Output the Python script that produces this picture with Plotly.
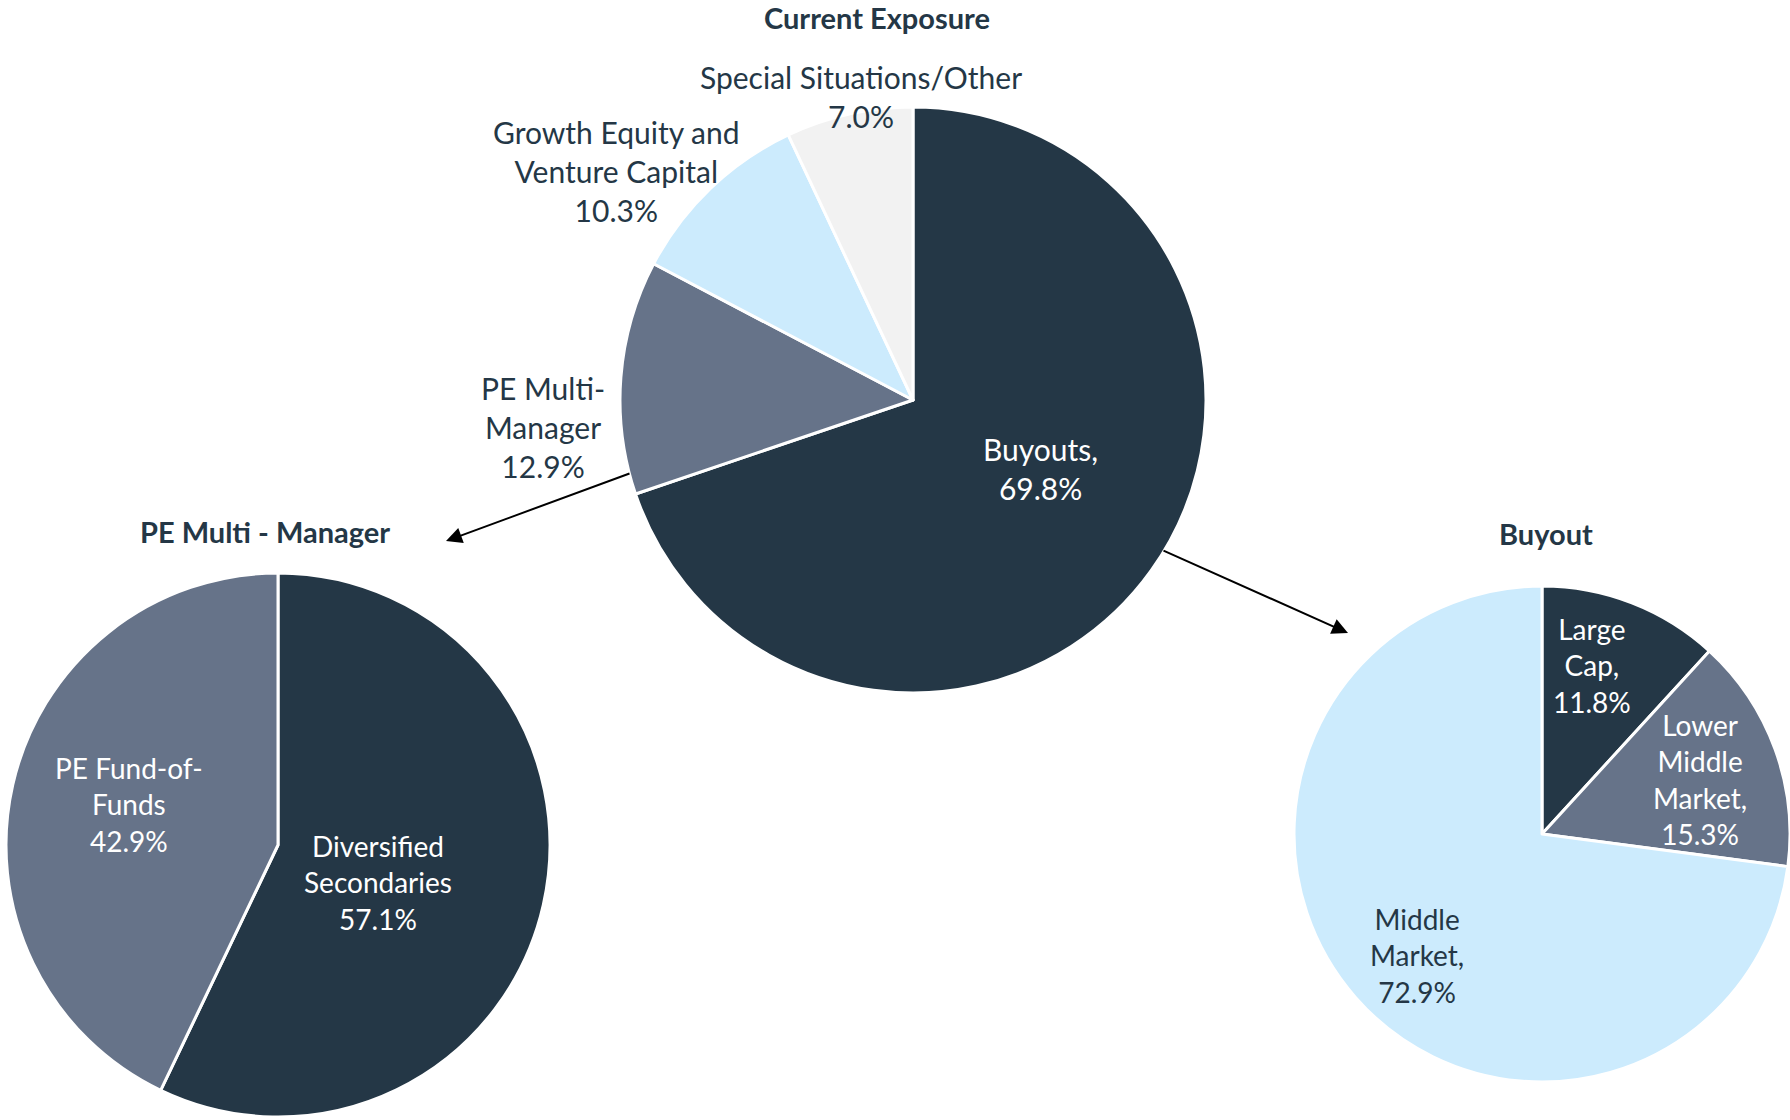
import plotly.graph_objects as go

# ---------------- data ----------------
main_labels = ["Buyouts", "PE Multi-Manager", "Growth Equity and Venture Capital", "Special Situations/Other"]
main_text = ["Buyouts,", "PE Multi-<br>Manager", "Growth Equity and<br>Venture Capital", "Special Situations/Other"]
main_values = [69.8, 12.9, 10.3, 7.0]

pemm_labels = ["Diversified Secondaries", "PE Fund-of-Funds"]
pemm_text = ["Diversified<br>Secondaries", "PE Fund-of-<br>Funds"]
pemm_values = [57.1, 42.9]

buy_labels = ["Large Cap", "Lower Middle Market", "Middle Market"]
buy_text = ["Large<br>Cap,", "Lower<br>Middle<br>Market,", "Middle<br>Market,"]
buy_values = [11.8, 15.3, 72.9]

titles = ["Current Exposure", "PE Multi - Manager", "Buyout"]

# ---------------- style ----------------
W, H = 1790, 1120
NAVY = "#243746"
SLATE = "#667389"
LBLUE = "#CCEBFD"
LGRAY = "#F2F2F2"
FONT = "Lato"

def px(x):
    return min(1.0, max(0.0, x / W))

def py(y):
    return min(1.0, max(0.0, 1 - y / H))

def dom(cx, cy, r):
    return dict(x=[px(cx - r), px(cx + r)], y=[py(cy + r), py(cy - r)])

fig = go.Figure()

def add_pie(labels, values, colors, d):
    fig.add_trace(go.Pie(
        labels=labels, values=values, sort=False, direction="clockwise", rotation=0,
        marker=dict(colors=colors, line=dict(color="white", width=3)),
        textinfo="none", hoverinfo="label+percent", showlegend=False, domain=d,
    ))

add_pie(main_labels, main_values, [NAVY, SLATE, LBLUE, LGRAY], dom(913, 400, 293))
add_pie(pemm_labels, pemm_values, [NAVY, SLATE], dom(278, 845, 272))
add_pie(buy_labels, buy_values, [NAVY, SLATE, LBLUE], dom(1542, 834, 248))

ann = []

def label(x, y, txt, color, size):
    ann.append(dict(x=px(x), y=py(y), xref="paper", yref="paper", text=txt,
                    showarrow=False, xanchor="center", yanchor="middle", align="center",
                    font=dict(family=FONT, size=size, color=color)))

# main pie labels
main_pos = [(1040, 468), (543, 427), (616, 171), (861, 96)]
main_col = ["white", NAVY, NAVY, NAVY]
for t, v, (x, y), c in zip(main_text, main_values, main_pos, main_col):
    label(x, y, f"{t}<br>{v:.1f}%", c, 30)

# PE multi-manager labels
pemm_pos = [(378, 882), (129, 804)]
for t, v, (x, y) in zip(pemm_text, pemm_values, pemm_pos):
    label(x, y, f"{t}<br>{v:.1f}%", "white", 28)

# buyout labels
buy_pos = [(1592, 665), (1700, 779), (1417, 955)]
buy_col = ["white", "white", NAVY]
for t, v, (x, y), c in zip(buy_text, buy_values, buy_pos, buy_col):
    label(x, y, f"{t}<br>{v:.1f}%", c, 28)

# titles
title_pos = [(877, 18), (265, 531), (1546, 533)]
for t, (x, y) in zip(titles, title_pos):
    ann.append(dict(x=px(x), y=py(y), xref="paper", yref="paper", text=f"<b>{t}</b>",
                    showarrow=False, xanchor="center", yanchor="middle",
                    font=dict(family=FONT, size=29, color=NAVY)))

# arrows (head, tail)
for (hx, hy), (tx, ty) in [((446, 541), (631, 473)), ((1348, 633), (1162, 550))]:
    ann.append(dict(x=px(hx), y=py(hy), xref="paper", yref="paper", text="",
                    showarrow=True, ax=tx - hx, ay=ty - hy, axref="pixel", ayref="pixel",
                    arrowhead=2, arrowsize=1.6, arrowwidth=2, arrowcolor="black"))

fig.update_layout(
    width=W, height=H,
    margin=dict(l=0, r=0, t=0, b=0),
    paper_bgcolor="white", plot_bgcolor="white",
    annotations=ann,
    font=dict(family=FONT, color=NAVY),
)

fig.write_html(
    "out.html",
    config={"displayModeBar": False},
    post_script="document.body.style.margin='0';document.body.style.overflow='hidden';",
)
